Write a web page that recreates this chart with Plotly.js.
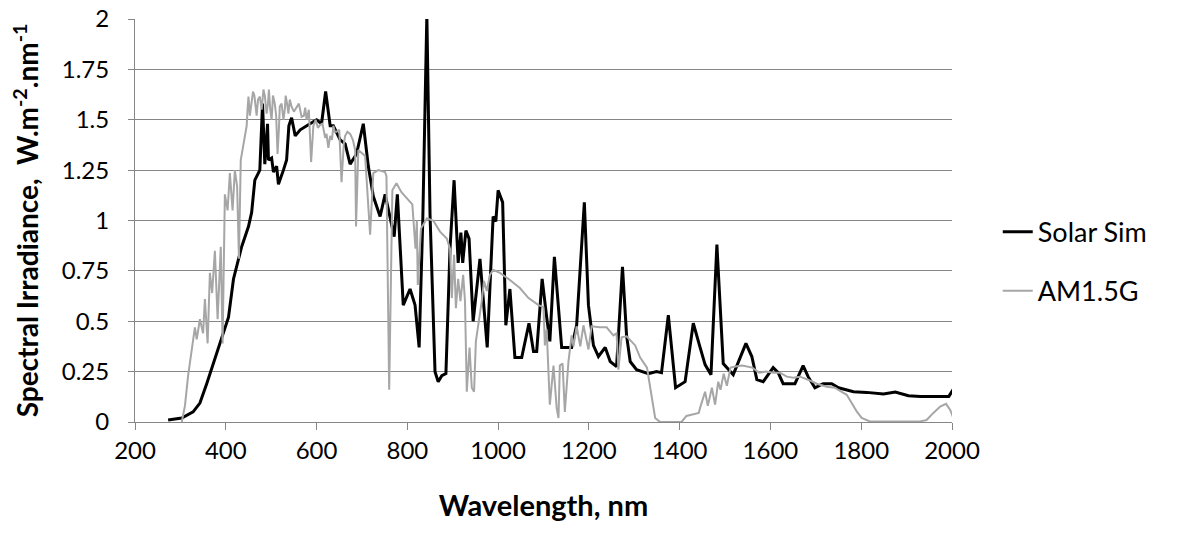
<!DOCTYPE html>
<html>
<head>
<meta charset="utf-8">
<script src="https://cdn.plot.ly/plotly-3.0.1.min.js"></script>
<style>
html,body{margin:0;padding:0;background:#fff;}
#chart{width:1178px;height:535px;}
</style>
</head>
<body>
<div id="chart"></div>
<script>
// Solar simulator spectrum (wavelength nm, irradiance W.m-2.nm-1)
const solarSimWl = [273,303,328,343,358,376,395,406,417,435,450,457,464,475,481,486,492,494,501,505,512,516,527,534,539,545,553,564,582,600,611,620,630,637,652,663,674,688,703,714,725,740,751,762,771,778,791,806,817,826,834,843,850,861,868,876,885,894,903,912,918,922,929,936,945,960,967,976,989,995,1000,1010,1017,1026,1037,1052,1068,1078,1085,1097,1107,1114,1124,1140,1162,1173,1190,1199,1210,1221,1236,1247,1261,1274,1283,1291,1305,1331,1349,1360,1375,1391,1412,1430,1445,1456,1469,1482,1496,1518,1546,1559,1570,1584,1606,1617,1628,1654,1672,1683,1698,1716,1735,1750,1783,1812,1849,1875,1904,1930,1967,1993,2005];
const solarSimVal = [0.01,0.02,0.05,0.094,0.19,0.31,0.44,0.52,0.71,0.87,0.97,1.04,1.2,1.25,1.58,1.28,1.48,1.3,1.31,1.24,1.27,1.18,1.25,1.3,1.47,1.51,1.42,1.45,1.475,1.5,1.48,1.64,1.47,1.47,1.4,1.38,1.28,1.33,1.48,1.27,1.12,1.02,1.13,1.02,0.92,1.13,0.58,0.66,0.58,0.37,1.0,2.02,1.03,0.25,0.2,0.23,0.24,0.86,1.2,0.79,0.94,0.79,0.95,0.91,0.5,0.81,0.615,0.37,1.02,0.995,1.15,1.09,0.48,0.66,0.32,0.32,0.49,0.35,0.35,0.71,0.52,0.4,0.82,0.37,0.37,0.48,1.09,0.58,0.38,0.325,0.37,0.3,0.275,0.77,0.43,0.3,0.26,0.24,0.25,0.245,0.53,0.17,0.2,0.49,0.37,0.285,0.235,0.88,0.29,0.235,0.39,0.325,0.21,0.2,0.27,0.245,0.19,0.19,0.28,0.225,0.17,0.19,0.19,0.17,0.15,0.147,0.139,0.149,0.13,0.127,0.127,0.127,0.17];

// AM1.5G reference spectrum
const am15Wl = [303,310,317,325,332,336,343,350,354,360,365,370,376,382,389,393,398,404,409,415,420,425,429,433,439,443,446,448,450,453,457,460,463,466,468,471,475,479,483,486,490,493,495,498,501,504,508,511,514,517,519,523,527,530,532,535,538,541,545,550,556,561,567,572,575,578,583,588,593,598,603,608,613,619,622,626,630,634,637,640,644,650,655,660,663,668,674,680,685,687,692,707,718,725,736,751,754,760,767,776,787,802,811,818,821,823,830,843,857,872,887,894,898,903,907,912,917,923,927,931,937,942,947,951,956,964,969,975,982,989,1004,1026,1048,1067,1089,1100,1103,1107,1114,1122,1129,1133,1136,1142,1147,1155,1162,1166,1173,1181,1188,1199,1206,1224,1239,1254,1261,1265,1272,1283,1302,1313,1328,1338,1346,1357,1404,1415,1427,1442,1445,1456,1462,1471,1478,1485,1490,1497,1504,1512,1523,1538,1560,1575,1590,1606,1621,1636,1650,1665,1683,1702,1724,1742,1757,1768,1779,1790,1801,1819,1930,1944,1959,1974,1987,1996,2003];
const am15Val = [0,0.08,0.23,0.36,0.47,0.41,0.51,0.44,0.61,0.39,0.74,0.64,0.85,0.51,0.87,0.39,1.13,1.05,1.235,1.05,1.25,1.17,0.81,1.3,1.38,1.42,1.47,1.55,1.615,1.52,1.58,1.64,1.62,1.56,1.52,1.6,1.615,1.55,1.65,1.62,1.53,1.58,1.65,1.55,1.5,1.62,1.58,1.52,1.33,1.45,1.565,1.58,1.5,1.55,1.62,1.58,1.53,1.6,1.565,1.54,1.565,1.58,1.515,1.52,1.56,1.5,1.55,1.29,1.47,1.5,1.46,1.475,1.48,1.41,1.43,1.36,1.42,1.4,1.47,1.44,1.44,1.45,1.19,1.38,1.42,1.44,1.43,1.4,1.35,0.97,1.35,1.32,0.93,1.235,1.25,1.24,1.22,0.16,1.15,1.185,1.14,1.1,1.08,0.86,1.0,0.68,0.96,1.01,1.0,0.945,0.91,0.86,0.615,0.83,0.565,0.71,0.6,0.73,0.6,0.15,0.37,0.17,0.15,0.4,0.47,0.6,0.7,0.65,0.73,0.755,0.74,0.705,0.665,0.615,0.58,0.57,0.38,0.46,0.086,0.28,0.07,0.02,0.28,0.29,0.05,0.3,0.43,0.375,0.475,0.375,0.48,0.36,0.475,0.47,0.47,0.43,0.44,0.26,0.42,0.425,0.38,0.32,0.27,0.13,0.02,0,0,0.03,0.035,0.045,0.07,0.15,0.08,0.17,0.086,0.2,0.16,0.24,0.18,0.27,0.275,0.28,0.27,0.245,0.25,0.245,0.245,0.225,0.22,0.225,0.21,0.19,0.175,0.17,0.15,0.135,0.094,0.053,0.02,0.003,0.003,0.01,0.045,0.077,0.09,0.06,0.02];

const xTickVals = [200,400,600,800,1000,1200,1400,1600,1800,2000];
const yTickVals = [0,0.25,0.5,0.75,1,1.25,1.5,1.75,2];
const yTickText = ['0','0.25','0.5','0.75','1','1.25','1.5','1.75','2'];

const FONT = "Lato, 'Open Sans', sans-serif";
const gridCol = '#868686';

const traces = [
  {x: solarSimWl, y: solarSimVal, type: 'scatter', mode: 'lines', name: 'Solar Sim',
   line: {color: '#000000', width: 3}, legendgroup: 'a'},
  {x: am15Wl, y: am15Val, type: 'scatter', mode: 'lines', name: 'AM1.5G',
   line: {color: '#a6a6a6', width: 2}, legendgroup: 'b'}
];

const layout = {
  width: 1178, height: 535,
  margin: {l: 135, r: 226, t: 19, b: 113},
  paper_bgcolor: '#ffffff', plot_bgcolor: '#ffffff',
  font: {family: FONT, size: 24, color: '#000'},
  showlegend: true,
  legend: {x: 1.056, xanchor: 'left', y: 0.398, yanchor: 'middle',
           font: {family: FONT, size: 27, color: '#000'},
           tracegroupgap: 21, bgcolor: 'rgba(0,0,0,0)'},
  xaxis: {
    range: [200, 2000], tickvals: xTickVals, ticktext: xTickVals.map(String),
    showgrid: false, zeroline: false,
    showline: true, linecolor: gridCol, linewidth: 1,
    ticks: 'outside', ticklen: 7, tickcolor: gridCol,
    tickfont: {family: FONT, size: 24, color: '#000'},
    ticklabelstandoff: 0,
    title: {text: '<b>Wavelength, nm</b>', font: {family: FONT, size: 29, color: '#000'}, standoff: 32}
  },
  yaxis: {
    range: [0, 2], tickvals: yTickVals, ticktext: yTickText,
    showgrid: true, gridcolor: gridCol, gridwidth: 1, zeroline: false,
    showline: true, linecolor: gridCol, linewidth: 1,
    ticks: 'outside', ticklen: 6, tickcolor: gridCol,
    tickfont: {family: FONT, size: 24, color: '#000'},
    ticklabelstandoff: 14,
    title: {text: '<b>Spectral Irradiance,  W.m<sup>-2</sup>.nm<sup>-1</sup></b>', font: {family: FONT, size: 28, color: '#000'}, standoff: 14}
  }
};

Plotly.newPlot('chart', traces, layout, {staticPlot: true, displayModeBar: false});
</script>
</body>
</html>
